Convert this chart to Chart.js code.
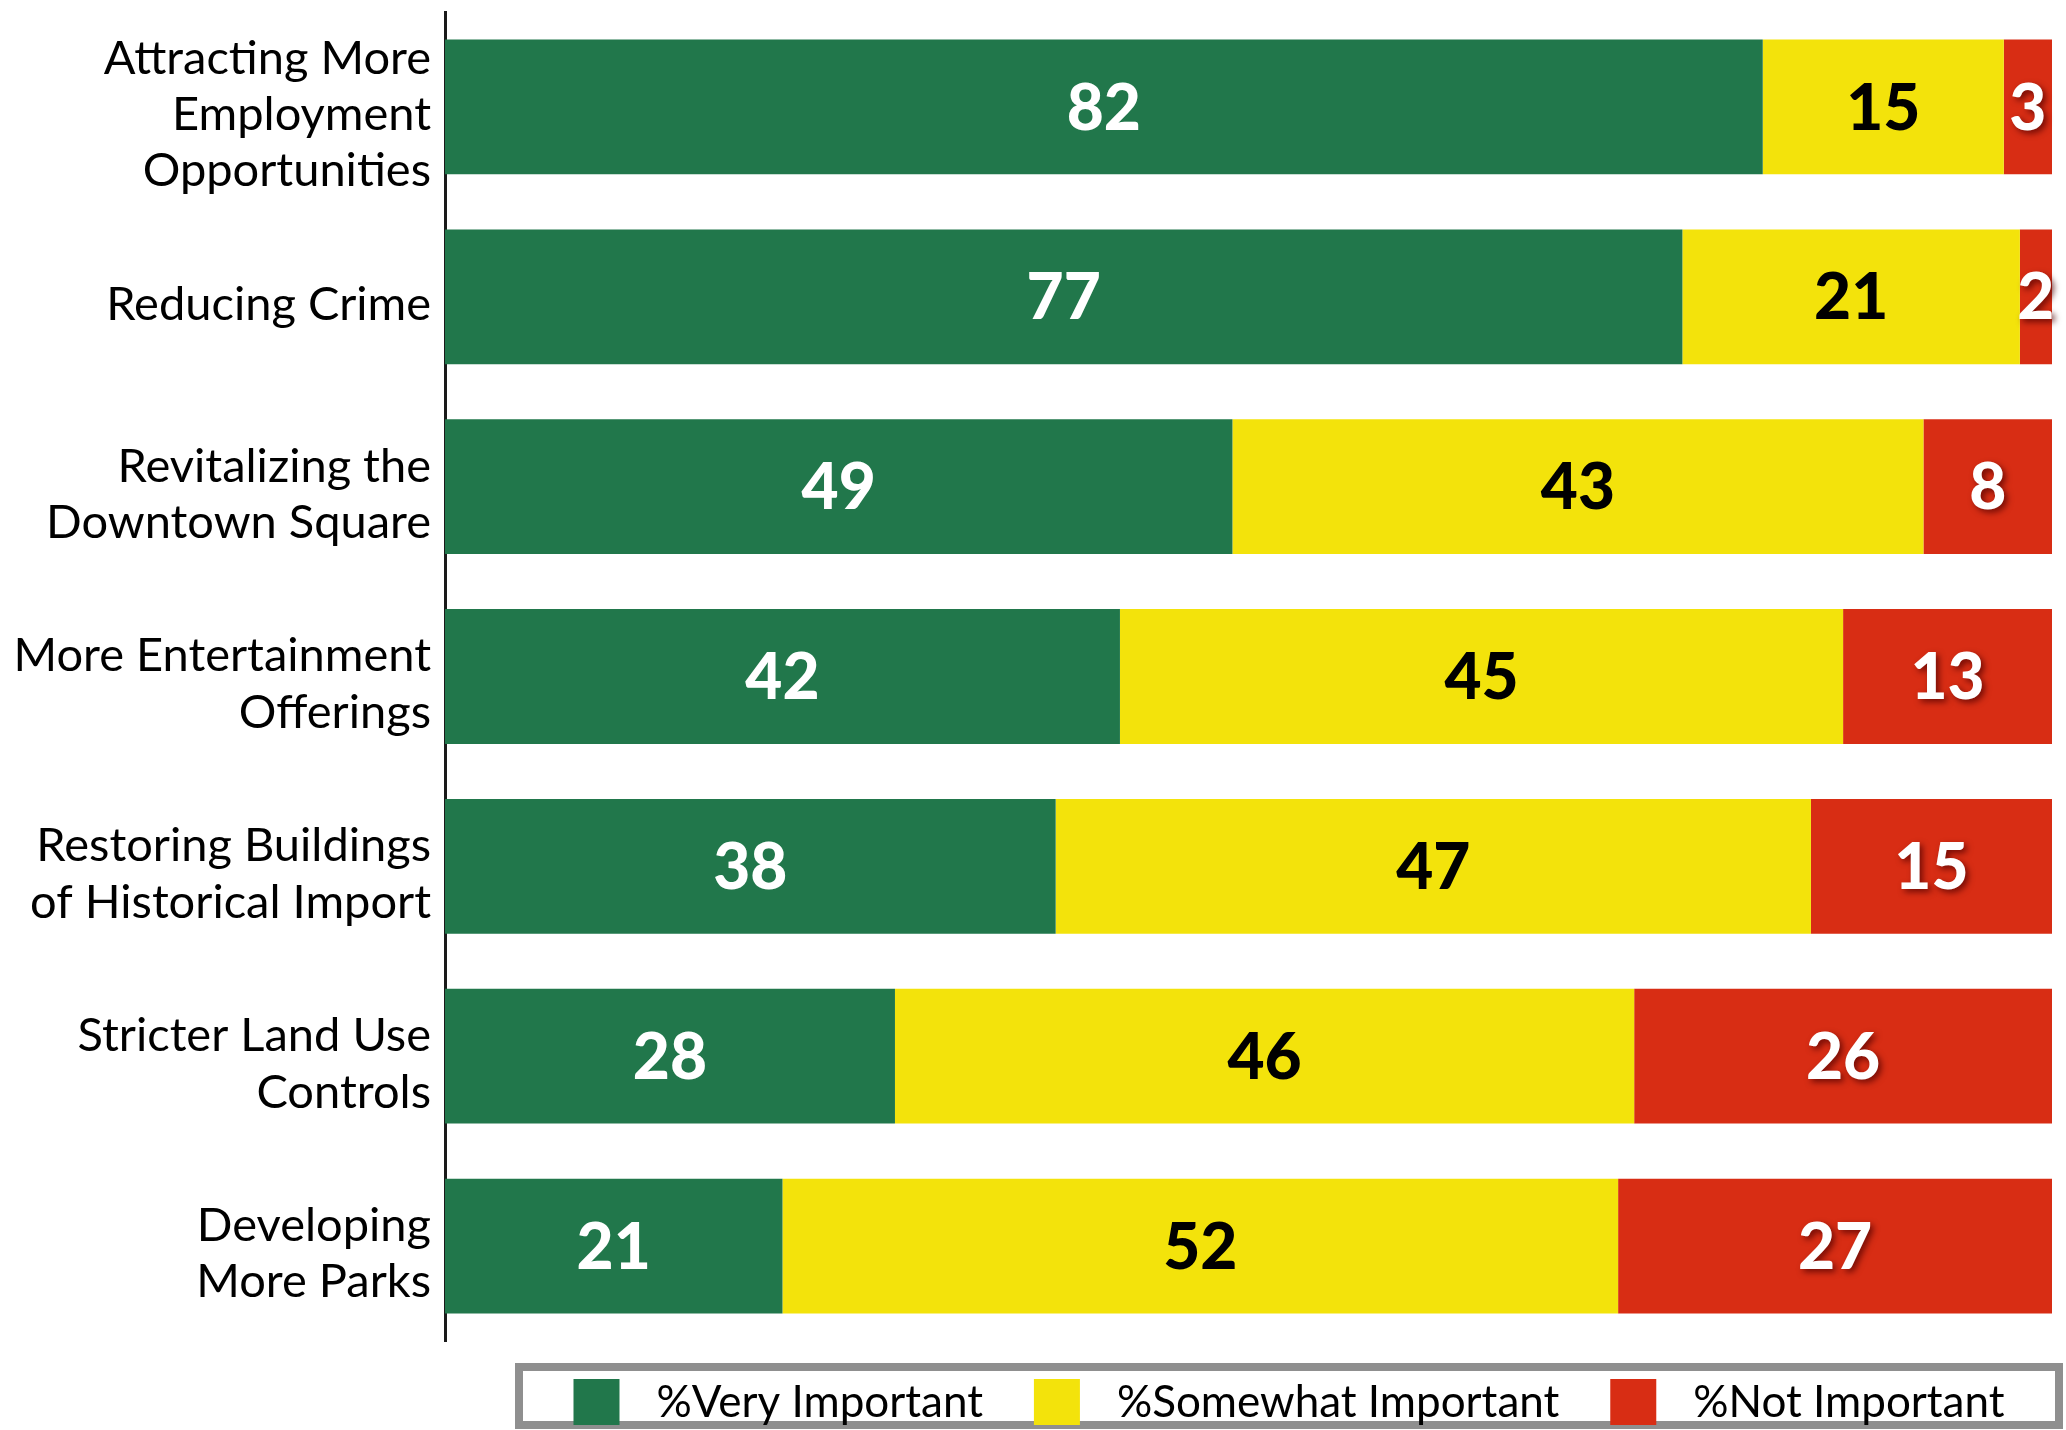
<!DOCTYPE html>
<html>
<head>
<meta charset="utf-8">
<script src="https://cdn.jsdelivr.net/npm/chart.js@4.4.1/dist/chart.umd.min.js"></script>
<style>
  html, body { margin: 0; padding: 0; background: #fff; }
  #wrap { width: 2066px; height: 1430px; }
</style>
</head>
<body>
<div id="wrap"><canvas id="priorities"></canvas></div>
<script>
const categories = [
    ["Attracting More", "Employment", "Opportunities"],
    "Reducing Crime",
    ["Revitalizing the", "Downtown Square"],
    ["More Entertainment", "Offerings"],
    ["Restoring Buildings", "of Historical Import"],
    ["Stricter Land Use", "Controls"],
    ["Developing", "More Parks"],
];
const very_important = [82, 77, 49, 42, 38, 28, 21];
const somewhat_important = [15, 21, 43, 45, 47, 46, 52];
const not_important = [3, 2, 8, 13, 15, 26, 27];
const series_names = ["%Very Important", "%Somewhat Important", "%Not Important"];

const green = "#21774b";
const yellow = "#f3e30b";
const red = "#d82d14";

// numbers inside each segment
const value_labels = {
    id: "value_labels",
    afterDatasetsDraw(chart) {
        const ctx = chart.ctx;
        ctx.save();
        ctx.font = "900 64px Lato";
        ctx.textAlign = "center";
        ctx.textBaseline = "middle";
        chart.data.datasets.forEach((ds, i) => {
            chart.getDatasetMeta(i).data.forEach((bar, j) => {
                const p = bar.getCenterPoint();
                ctx.save();
                if (i == 1) {
                    ctx.fillStyle = "#000";
                } else {
                    ctx.fillStyle = "#fff";
                }
                if (i == 2) {
                    ctx.shadowColor = "rgba(80, 0, 0, 0.75)";
                    ctx.shadowBlur = 6;
                    ctx.shadowOffsetX = 3;
                    ctx.shadowOffsetY = 3;
                }
                ctx.fillText(ds.data[j], p.x, p.y + 2);
                ctx.restore();
            });
        });
        ctx.restore();
    },
};

// boxed legend under the plot
const boxed_legend = {
    id: "boxed_legend",
    afterDraw(chart) {
        const ctx = chart.ctx;
        ctx.save();
        ctx.strokeStyle = "#8f8f8f";
        ctx.lineWidth = 8;
        ctx.strokeRect(519, 1367, 1540, 58);

        ctx.font = "44px Lato";
        ctx.textBaseline = "middle";
        const sw = 46, gap = 37, between = 51;
        const widths = chart.data.datasets.map((ds) => ctx.measureText(ds.label).width);
        let total = 0;
        widths.forEach((w) => (total += sw + gap + w));
        total += between * (widths.length - 1);
        let x = 1289 - total / 2;
        const cy = 1402;
        chart.data.datasets.forEach((ds, i) => {
            ctx.fillStyle = ds.backgroundColor;
            ctx.fillRect(x, cy - 23, sw, 46);
            ctx.fillStyle = "#000";
            ctx.fillText(ds.label, x + sw + gap, cy + 1);
            x += sw + gap + widths[i] + between;
        });
        ctx.restore();
    },
};

const config = {
    type: "bar",
    data: {
        labels: categories,
        datasets: [
            { label: series_names[0], data: very_important, backgroundColor: green },
            { label: series_names[1], data: somewhat_important, backgroundColor: yellow },
            { label: series_names[2], data: not_important, backgroundColor: red },
        ],
    },
    options: {
        indexAxis: "y",
        responsive: true,
        maintainAspectRatio: false,
        animation: false,
        barPercentage: 0.71,
        categoryPercentage: 1.0,
        layout: { padding: { left: 0, right: 14, top: 12, bottom: 89 } },
        plugins: {
            legend: { display: false },
            tooltip: { enabled: false },
        },
        scales: {
            x: {
                stacked: true,
                min: 0,
                max: 100,
                display: false,
            },
            y: {
                stacked: true,
                grid: { display: false, drawTicks: false },
                border: { display: true, color: "#1a1a1a", width: 3 },
                ticks: {
                    color: "#000",
                    padding: 14,
                    labelOffset: 8,
                    font: { family: "Lato", size: 47, lineHeight: 1.2 },
                },
                afterFit(scale) {
                    scale.width = 445;
                    scale.paddingTop = 0;
                    scale.paddingBottom = 0;
                },
            },
        },
    },
    plugins: [value_labels, boxed_legend],
};

const chart = new Chart(document.getElementById("priorities"), config);
</script>
</body>
</html>
